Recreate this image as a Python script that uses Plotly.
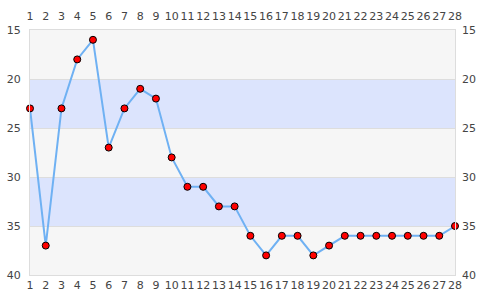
import plotly.graph_objects as go

x_vals = list(range(1, 29))
y_vals = [23, 37, 23, 18, 16, 27, 23, 21, 22, 28, 31, 31, 33, 33, 36, 38, 36, 36, 38, 37,
          36, 36, 36, 36, 36, 36, 36, 35]
y_ticks = [15, 20, 25, 30, 35, 40]
bands = [(15, 20, "#f6f6f6"), (20, 25, "#dce4fd"), (25, 30, "#f6f6f6"),
         (30, 35, "#dce4fd"), (35, 40, "#f6f6f6")]

fig = go.Figure()
fig.add_trace(go.Scatter(
    x=x_vals, y=y_vals, mode="lines+markers",
    line=dict(color="#6fb1f3", width=2),
    marker=dict(color="#ff0000", size=7, line=dict(color="#000000", width=1)),
    cliponaxis=False, showlegend=False, hoverinfo="skip"))
fig.add_trace(go.Scatter(x=x_vals, y=y_vals, xaxis="x2", yaxis="y2",
                         mode="lines", line=dict(width=0), opacity=0,
                         showlegend=False, hoverinfo="skip"))

for y0, y1, c in bands:
    fig.add_shape(type="rect", xref="paper", yref="y", x0=0, x1=1, y0=y0, y1=y1,
                  fillcolor=c, line=dict(width=0), layer="below")

font = dict(family="DejaVu Sans", size=11, color="#444444")
common_x = dict(range=[1, 28], tickmode="array", tickvals=x_vals,
                ticktext=[str(v) for v in x_vals], tickfont=font, tickangle=0,
                showgrid=False, zeroline=False, ticks="", automargin=False)
common_y = dict(range=[40, 15], tickmode="array", tickvals=y_ticks,
                tickfont=font, zeroline=False, ticks="", automargin=False)

fig.update_layout(
    width=485, height=300,
    margin=dict(l=30, r=30, t=30, b=25),
    paper_bgcolor="white", plot_bgcolor="white",
    xaxis=dict(**common_x, side="bottom", showline=True, linecolor="#dddddd",
               linewidth=1, mirror=True),
    xaxis2=dict(**common_x, side="top", overlaying="x", showline=False,
                ticklabelstandoff=7),
    yaxis=dict(**common_y, side="left", showgrid=True, gridcolor="#dddddd",
               showline=True, linecolor="#dddddd", linewidth=1, mirror=True,
               ticklabelstandoff=6),
    yaxis2=dict(**common_y, side="right", overlaying="y", showgrid=False,
                showline=False, ticklabelstandoff=6),
)

fig.write_html("out.html")
